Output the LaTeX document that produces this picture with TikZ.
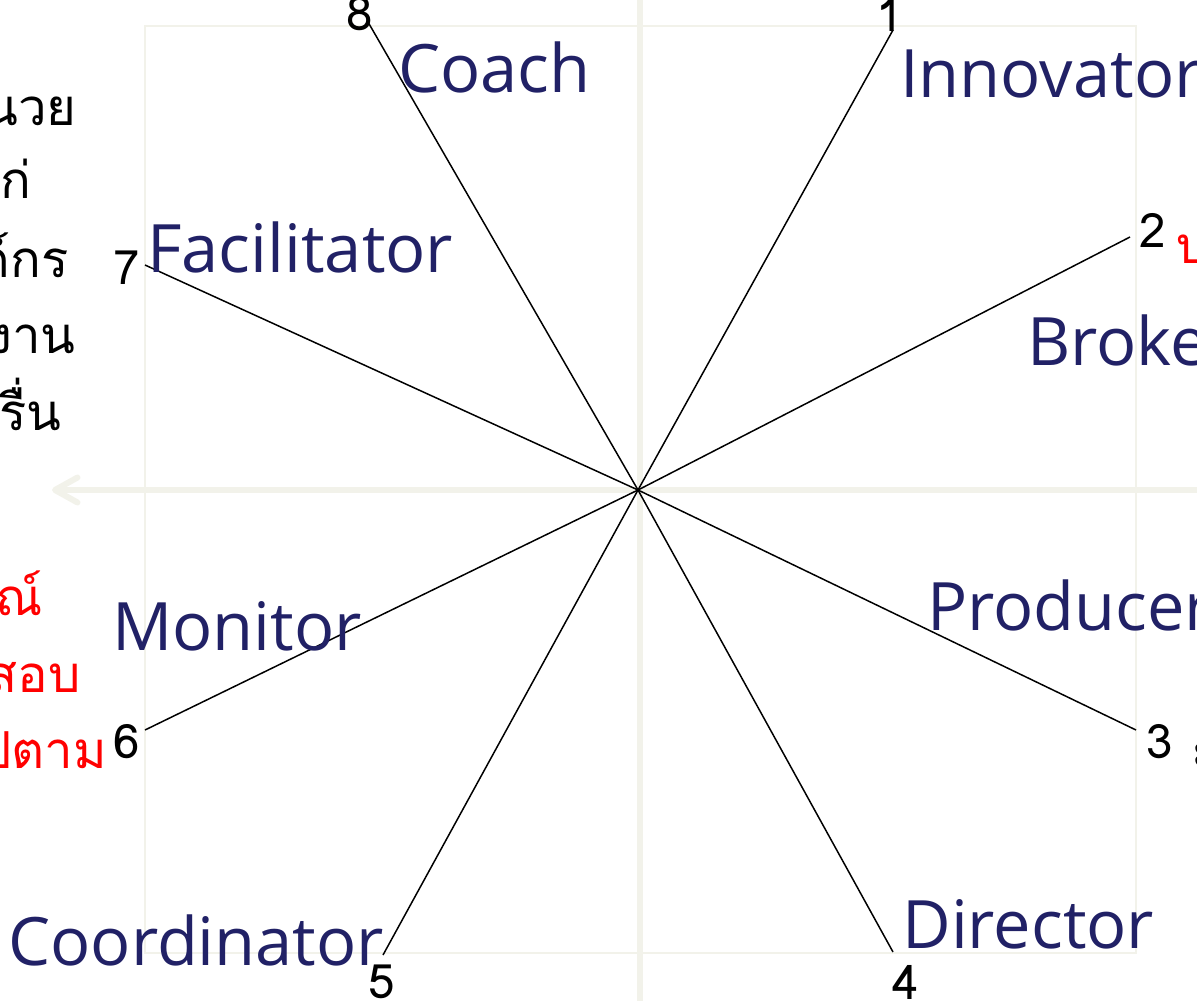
\documentclass[tikz,border=0pt]{standalone}
\usepackage{fontspec}
\setmainfont[Script=Thai]{Loma}
\newfontfamily\rolefont{Open Sans}
\usepackage{tikz}
\usetikzlibrary{arrows.meta}
\usetikzlibrary{calc}
\usetikzlibrary{positioning}

\definecolor{rolenavy}{RGB}{33,33,102}
\definecolor{faintgrid}{RGB}{242,242,234}

\begin{document}
\begin{tikzpicture}[x=0.02cm,y=-0.02cm,
        role/.style={anchor=base west, inner sep=0pt, text=rolenavy, font=\rolefont\fontsize{38}{40}\selectfont},
        num/.style={inner sep=0pt, font=\fontsize{27}{28}\selectfont},
        thaitxt/.style={anchor=base east, inner sep=0pt, font=\fontsize{29}{32}\selectfont},
        spoke/.style={draw=black, line width=0.85pt}]
        \useasboundingbox (0,0) rectangle (1197,1001);
        \clip (0,0) rectangle (1197,1001);

        % faint frame and axes
        \draw[faintgrid, line width=0.04cm] (145,26) rectangle (1136,953);
        \draw[faintgrid, line width=0.12cm] (640,0) -- (640,1001);
        \draw[faintgrid, line width=0.12cm, -{Straight Barb[length=0.45cm,width=0.5cm,round]}] (1197,490) -- (52,490);

        % centre and spoke ends
        \coordinate (ctr) at (638,490);
        \coordinate (p1) at (893,30);
        \coordinate (p2) at (1130,237);
        \coordinate (p3) at (1136,730);
        \coordinate (p4) at (893,952);
        \coordinate (p5) at (383,955);
        \coordinate (p6) at (145,730);
        \coordinate (p7) at (145,265);
        \coordinate (p8) at (368,22);

        \path[spoke] (ctr) edge (p1) edge (p2) edge (p3) edge (p4)
                           edge (p5) edge (p6) edge (p7) edge (p8);

        % numbers
        \node[num] (n1) at (890,14) {1};
        \node[num] (n2) at (1153,230) {2};
        \node[num] (n3) at (1160,742) {3};
        \node[num] (n4) at (906,982) {4};
        \node[num] (n5) at (382,982) {5};
        \node[num] (n6) at (127,742) {6};
        \node[num] (n7) at (127,268) {7};
        \node[num] (n8) at (360,14) {8};

        % roles
        \node[role] (coach) at (398,92) {Coach};
        \node[role] (innov) at (900,97) {Innovator};
        \node[role] (facil) at (147,272) {Facilitator};
        \node[role] (broker) at (1027,365) {Broker};
        \node[role] (prod) at (927,630) {Producer};
        \node[role] (monit) at (112,650) {Monitor};
        \node[role] (coord) at (8,965) {Coordinator};
        \node[role] (direc) at (902,948) {Director};

        % cut-off thai notes
        \node[thaitxt] (t1) at (77,125) {นวย};
        \node[thaitxt] (t2) at (32,198) {แก่};
        \node[thaitxt] (t3) at (69,277) {ค์กร};
        \node[thaitxt] (t4) at (76,353) {งาน};
        \node[thaitxt] (t5) at (62,430) {บรื่น};
        \node[thaitxt, text=red] (r1) at (43,615) {ณ์};
        \node[thaitxt, text=red] (r2) at (81,692) {สอบ};
        \node[thaitxt, text=red] (r3) at (107,768) {ไปตาม};
        \node[thaitxt, anchor=base west, text=red] (r4) at (1176,263) {บ};
        \node[thaitxt, anchor=base west] (r5) at (1191,768) {ะ};
\end{tikzpicture}
\end{document}
